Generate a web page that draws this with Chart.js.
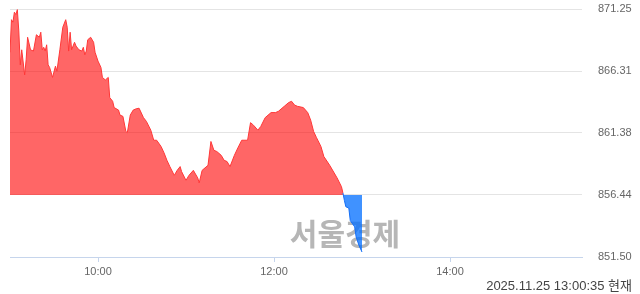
<!DOCTYPE html>
<html>
<head>
<meta charset="utf-8">
<script src="https://cdn.jsdelivr.net/npm/chart.js@4/dist/chart.umd.min.js"></script>
<style>
html,body{margin:0;padding:0;background:#fff;}
#wrap{position:relative;width:640px;height:294px;}
</style>
</head>
<body>
<div id="wrap"><canvas id="c" width="640" height="294"></canvas></div>
<script>
const times = ["09:00","09:01","09:02","09:03","09:04","09:05","09:06","09:07","09:08","09:10","09:11","09:12","09:14","09:16","09:18","09:20","09:21","09:22","09:23","09:24","09:25","09:26","09:27","09:29","09:31","09:32","09:34","09:36","09:38","09:39","09:40","09:41","09:42","09:44","09:45","09:47","09:49","09:50","09:51","09:52","09:53","09:55","09:57","09:58","10:00","10:02","10:03","10:05","10:07","10:08","10:10","10:11","10:14","10:15","10:17","10:19","10:20","10:22","10:24","10:26","10:28","10:31","10:33","10:36","10:38","10:40","10:43","10:45","10:47","10:49","10:52","10:54","10:56","10:57","11:00","11:02","11:05","11:08","11:09","11:11","11:15","11:17","11:19","11:21","11:24","11:26","11:28","11:30","11:33","11:35","11:38","11:42","11:44","11:46","11:49","11:51","11:54","11:58","12:01","12:03","12:07","12:10","12:12","12:14","12:16","12:20","12:23","12:25","12:27","12:29","12:32","12:34","12:38","12:41","12:43","12:46","12:47","12:48","12:49","12:51","12:52","12:55","12:56","12:58","13:00"];
const values = [867.8,870.4,870.2,871.0,870.8,871.2,869.5,866.8,868.0,866.0,867.2,869.0,868.0,867.9,869.2,869.0,869.4,868.0,868.2,867.9,868.4,866.8,866.6,865.8,866.7,866.3,868.0,869.8,870.4,869.8,867.9,869.4,868.0,868.6,868.3,868.0,867.9,868.2,867.6,867.9,868.8,869.0,868.6,867.8,867.1,866.6,865.8,865.6,865.8,864.2,863.9,863.4,863.2,862.8,862.7,861.5,861.4,862.8,863.2,863.3,863.35,862.6,862.3,861.6,860.8,860.8,860.3,859.8,859.2,858.7,858.0,858.4,858.7,858.3,857.6,858.0,858.4,857.8,857.4,858.4,858.8,860.7,860.0,859.9,859.6,859.2,859.1,858.7,859.6,860.1,860.8,860.8,862.2,862.0,861.6,861.9,862.6,863.0,863.0,863.1,863.5,863.8,863.9,863.6,863.5,863.4,863.0,862.4,861.5,861.0,860.3,859.5,858.8,858.2,857.8,857.1,856.6,856.0,855.5,855.4,854.4,853.9,853.1,852.4,851.9];
const baseValue = 856.44;
const yTicks = [851.50, 856.44, 861.38, 866.31, 871.25];
const xTickLabels = ["10:00", "12:00", "14:00"];
const sessionStart = "09:00";
const sessionEnd = "15:30";
const stampText = "2025.11.25 13:00:35 현재";
const watermarkText = "서울경제";

function toMin(s){ const p = s.split(":"); return (+p[0])*60 + (+p[1]); }
const t0 = toMin(sessionStart);
const points = times.map((t,i)=>({x: toMin(t)-t0, y: values[i]}));

const RED_FILL = 'rgba(255,0,0,0.6)';
const RED_LINE = 'rgb(255,55,55)';
const BLUE_FILL = 'rgba(0,110,255,0.75)';
const BLUE_LINE = 'rgb(20,110,245)';
const AXIS_BLUE = '#c6d5ec';
const GRID = '#e4e4e4';

const extras = {
  id: 'extras',
  beforeDatasetsDraw(chart){
    const ctx = chart.ctx;
    ctx.save();
    ctx.font = 'bold 30px "Noto Sans CJK KR"';
    ctx.fillStyle = 'rgb(182,182,182)';
    ctx.textAlign = 'center';
    ctx.textBaseline = 'middle';
    ctx.fillText(watermarkText, 345, 234);
    ctx.restore();
  },
  afterDraw(chart){
    const ctx = chart.ctx;
    ctx.save();
    ctx.font = '13px "Liberation Sans", "Noto Sans CJK KR"';
    ctx.fillStyle = '#444';
    ctx.textAlign = 'right';
    ctx.textBaseline = 'middle';
    ctx.fillText(stampText, 632, 286);
    ctx.restore();
  }
};

new Chart(document.getElementById('c'), {
  type: 'line',
  data: {
    datasets: [{
      data: points,
      borderWidth: 1,
      borderColor: RED_LINE,
      segment: {
        borderColor: c => c.p1.parsed.y < baseValue ? BLUE_LINE : RED_LINE
      },
      pointRadius: 0,
      tension: 0,
      fill: { target: { value: baseValue }, above: RED_FILL, below: BLUE_FILL }
    }]
  },
  options: {
    responsive: false,
    animation: false,
    events: [],
    layout: { autoPadding: false, padding: { left: 10, top: 9, right: 0, bottom: 0 } },
    plugins: { legend: { display: false }, tooltip: { enabled: false } },
    scales: {
      x: {
        type: 'linear',
        min: 0,
        max: toMin(sessionEnd) - t0,
        afterBuildTicks: s => { s.ticks = xTickLabels.map(l => ({ value: toMin(l) - t0 })); },
        afterFit: s => { s.height = 37; s.paddingLeft = 0; s.paddingRight = 0; },
        ticks: {
          autoSkip: false,
          maxRotation: 0,
          padding: 3,
          color: '#666',
          font: { family: '"Liberation Sans"', size: 11 },
          callback: v => { const m = v + t0; return String(Math.floor(m/60)).padStart(2,'0') + ':' + String(m%60).padStart(2,'0'); }
        },
        grid: { drawOnChartArea: false, drawTicks: true, tickLength: 5, color: AXIS_BLUE },
        border: { display: true, color: AXIS_BLUE }
      },
      y: {
        position: 'right',
        min: yTicks[0],
        max: yTicks[yTicks.length - 1],
        afterBuildTicks: s => { s.ticks = yTicks.map(v => ({ value: v })); },
        afterFit: s => { s.width = 58; s.paddingTop = 0; s.paddingBottom = 0; },
        ticks: {
          padding: 16,
          color: '#666',
          font: { family: '"Liberation Sans"', size: 11 },
          callback: v => v.toFixed(2)
        },
        grid: {
          drawTicks: false,
          color: c => (c.tick && c.tick.value === yTicks[0]) ? AXIS_BLUE : GRID
        },
        border: { display: false }
      }
    }
  },
  plugins: [extras]
});
</script>
</body>
</html>
